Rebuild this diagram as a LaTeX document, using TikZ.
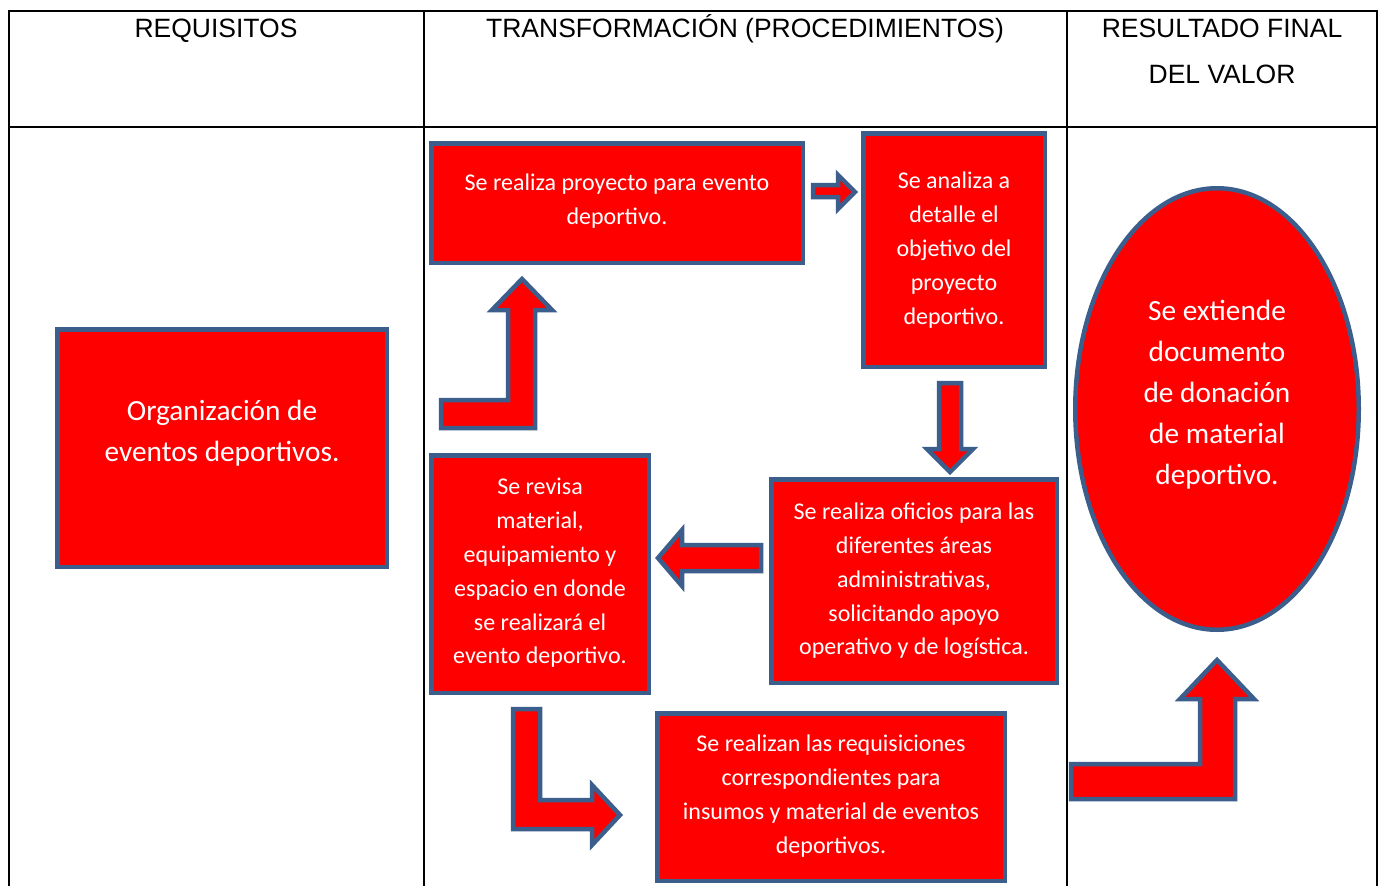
\documentclass[tikz,border=0pt]{standalone}
\usepackage{fontspec}
\setmainfont{Carlito}
\newfontfamily\hdrfont{Liberation Sans}
\usetikzlibrary{shapes.geometric}
\definecolor{bord}{RGB}{59,94,140}
\definecolor{fillred}{RGB}{255,0,0}
\begin{document}
\begin{tikzpicture}[x=1pt,y=-1pt,
  box/.style={draw=bord,line width=4.5pt,fill=fillred,inner sep=0pt,rectangle},
  oval/.style={draw=bord,line width=4.5pt,fill=fillred,inner sep=0pt,ellipse},
  txt/.style={text=white,align=center,inner sep=0pt,font=\fontsize{24}{33.8}\selectfont},
  bigtxt/.style={text=white,align=center,inner sep=0pt,font=\fontsize{29.3}{41}\selectfont},
  hd/.style={align=center,inner sep=0pt,font=\hdrfont\fontsize{26.5}{46}\selectfont},
  barrow/.style={draw=bord,line width=4.5pt,fill=fillred,line join=miter},
  gridline/.style={line width=2pt,black}]
\useasboundingbox (0,0) rectangle (1381,886);
% table
\draw[gridline] (9,11) -- (1377,11);
\draw[gridline] (9,127) -- (1377,127);
\draw[gridline] (9,10) -- (9,886);
\draw[gridline] (424,11) -- (424,886);
\draw[gridline] (1067,11) -- (1067,886);
\draw[gridline] (1377,10) -- (1377,886);
% headers
\node[hd,anchor=base] (h1) at (216,37) {REQUISITOS};
\node[hd,anchor=base] (h2) at (745,37) {TRANSFORMACIÓN (PROCEDIMIENTOS)};
\node[hd,anchor=base] (h3) at (1222,83) {RESULTADO FINAL\\DEL VALOR};
% boxes
\node[box,minimum width=329.5,minimum height=237.5] (org) at (222,448) {};
\node[bigtxt] (orgt) at (222,433) {Organización de\\eventos deportivos.};
\node[box,minimum width=371.5,minimum height=119.5] (proy) at (617,203) {};
\node[txt] (proyt) at (617,201) {Se realiza proyecto para evento\\deportivo.};
\node[box,minimum width=181.5,minimum height=233.5] (anal) at (954,250) {};
\node[txt] (analt) at (954,250) {Se analiza a\\detalle el\\objetivo del\\proyecto\\deportivo.};
\node[box,minimum width=217.5,minimum height=237.5] (rev) at (540,574) {};
\node[txt] (revt) at (540,573) {Se revisa\\material,\\equipamiento y\\espacio en donde\\se realizará el\\evento deportivo.};
\node[box,minimum width=285.5,minimum height=203.5] (ofi) at (914,581) {};
\node[txt] (ofit) at (914,581) {Se realiza oficios para las\\diferentes áreas\\administrativas,\\solicitando apoyo\\operativo y de logística.};
\node[box,minimum width=347.5,minimum height=167.5] (req) at (831,797) {};
\node[txt] (reqt) at (831,796) {Se realizan las requisiciones\\correspondientes para\\insumos y material de eventos\\deportivos.};
\node[oval,minimum width=283.5,minimum height=441.5] (ell) at (1217,409) {};
\node[bigtxt] (ellt) at (1217,395) {Se extiende\\documento\\de donación\\de material\\deportivo.};
% block arrows
\draw[barrow] (441,400) -- (508,400) -- (508,310) -- (492,310) -- (522,279) -- (552,310) -- (535,310) -- (535,428) -- (441,428) -- cycle;
\draw[barrow] (813,185) -- (838,185) -- (838,175) -- (855,192) -- (838,209) -- (838,197) -- (813,197) -- cycle;
\draw[barrow] (939,383) -- (961,383) -- (961,449) -- (973,449) -- (950,472) -- (927,449) -- (939,449) -- cycle;
\draw[barrow] (761,545) -- (761,571) -- (682,571) -- (682,586) -- (658,558) -- (682,530) -- (682,545) -- cycle;
\draw[barrow] (513,709) -- (540,709) -- (540,800) -- (592,800) -- (592,785) -- (620,815) -- (592,845) -- (592,829) -- (513,829) -- cycle;
\draw[barrow] (1071,764) -- (1200,764) -- (1200,699) -- (1180,699) -- (1217,660) -- (1254,699) -- (1235,699) -- (1235,799) -- (1071,799) -- cycle;
\end{tikzpicture}
\end{document}
